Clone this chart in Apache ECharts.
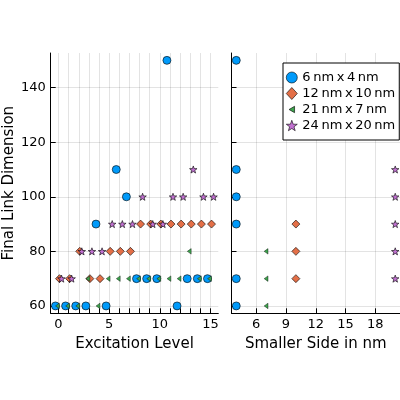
<!DOCTYPE html>
<html>
<head>
<meta charset="utf-8">
<script src="https://cdn.jsdelivr.net/npm/echarts@6/dist/echarts.min.js"></script>
<style>
html, body { margin: 0; padding: 0; background: #fff; }
#chart { width: 400px; height: 400px; }
</style>
</head>
<body>
<div id="chart"></div>
<script>
// data
var levels = [0, 1, 2, 3, 4, 5, 6, 7, 8, 9, 10, 11, 12, 13, 14, 15];
var names = ['6\u2009nm\u2009x\u20094\u2009nm', '12\u2009nm\u2009x\u200910\u2009nm', '21\u2009nm\u2009x\u20097\u2009nm', '24\u2009nm\u2009x\u200920\u2009nm'];
var smallerSide = [4, 10, 7, 20];
var dim6x4 = [60, 60, 60, 60, 90, 60, 110, 100, 70, 70, 70, 150, 60, 70, 70, 70];
var dim12x10 = [70, 70, 80, 70, 70, 80, 80, 80, 90, 90, 90, 90, 90, 90, 90, 90];
var dim21x7 = [60, 60, 60, 70, 60, 70, 70, 70, 70, 70, 70, 70, 70, 80, 70, 70];
var dim24x20 = [70, 70, 80, 80, 80, 90, 90, 90, 100, 90, 90, 100, 100, 110, 100, 100];
var yTicks = [60, 80, 100, 120, 140];
var levelLabels = [0, 5, 10, 15];
var sideTicks = [6, 9, 12, 15, 18];

/* styles */
var FONT = 'DejaVu Sans';
var colors = ['#009AFA', '#E36F47', '#3EA44E', '#C271D2'];
var dodge = [-0.3, 0.1, -0.1, 0.3];
var STAR = 'path://M0,-10 L2.35,-3.24 9.51,-3.09 3.8,1.24 5.88,8.09 0,4.2 -5.88,8.09 -3.8,1.24 -9.51,-3.09 -2.35,-3.24 Z';
var LTRI = 'path://M0,3.5 L6,0 L6,7 Z';
var LTRI_LEGEND = 'path://M-3,-2.5 M9,9.5 M0,3.5 L6,0 L6,7 Z';
var symbols = ['circle', 'diamond', LTRI, STAR];
var sizes = [8, 8, [4.5, 5.5], 7.5];
var dims = [dim6x4, dim12x10, dim21x7, dim24x20];

var chart = echarts.init(document.getElementById('chart'));

function axisCommon() {
	return {
		axisLine: { show: true, onZero: false, lineStyle: { color: '#000', width: 1 } },
		axisTick: { show: true, inside: true, length: 5, lineStyle: { color: '#000', width: 1 } },
		axisLabel: { color: '#000', fontFamily: FONT, fontSize: 13, margin: 5 },
		splitLine: { show: true, lineStyle: { color: 'rgba(0,0,0,0.11)', width: 1 } },
		nameTextStyle: { color: '#000', fontFamily: FONT, fontSize: 15 },
		nameLocation: 'middle'
	};
}

var xLeft = axisCommon();
xLeft.type = 'value'; xLeft.gridIndex = 0;
xLeft.min = -0.768; xLeft.max = 15.768;
xLeft.name = 'Excitation Level'; xLeft.nameGap = 22;
xLeft.axisTick.customValues = levels;
xLeft.axisLabel.customValues = levelLabels;

var xRight = axisCommon();
xRight.type = 'value'; xRight.gridIndex = 1;
xRight.min = 3.52; xRight.max = 20.48;
xRight.name = 'Smaller Side in nm'; xRight.nameGap = 22;
xRight.axisTick.customValues = sideTicks;
xRight.axisLabel.customValues = sideTicks;

var yLeft = axisCommon();
yLeft.type = 'value'; yLeft.gridIndex = 0;
yLeft.min = 57.3; yLeft.max = 152.7;
yLeft.name = 'Final Link Dimension'; yLeft.nameGap = 34;
yLeft.axisTick.customValues = yTicks;
yLeft.axisLabel.customValues = yTicks;

var yRight = axisCommon();
yRight.type = 'value'; yRight.gridIndex = 1;
yRight.min = 57.3; yRight.max = 152.7;
yRight.axisTick.customValues = yTicks;
yRight.axisLabel.customValues = yTicks;
yRight.axisLabel.show = false;

var series = [];
for (var s = 0; s < 4; s++) {
	var left = [], right = [], seen = {};
	for (var i = 0; i < levels.length; i++) {
		left.push([levels[i] + dodge[s], dims[s][i]]);
		// right panel: one mark per distinct dimension (same spot otherwise)
		if (!seen[dims[s][i]]) {
			seen[dims[s][i]] = true;
			right.push([smallerSide[s], dims[s][i]]);
		}
	}
	var base = {
		type: 'scatter',
		name: names[s],
		symbol: symbols[s],
		symbolSize: sizes[s],
		symbolKeepAspect: true,
		itemStyle: { color: colors[s], borderColor: '#000', borderWidth: s == 2 ? 0.4 : 0.6, opacity: 1 },
		emphasis: { disabled: true },
		z: 2 + s
	};
	series.push(Object.assign({}, base, { xAxisIndex: 0, yAxisIndex: 0, data: left }));
	series.push(Object.assign({}, base, { xAxisIndex: 1, yAxisIndex: 1, data: right }));
}

option = {
	animation: false,
	backgroundColor: '#fff',
	grid: [
		{ left: 50.7, top: 53, width: 167.6, height: 260.3 },
		{ left: 231.5, top: 53, width: 168.5, height: 260.3 }
	],
	legend: {
		orient: 'vertical',
		left: 283, top: 63,
		backgroundColor: '#fff',
		borderColor: '#000', borderWidth: 1, borderRadius: 0,
		padding: [8, 4, 8, 3],
		itemGap: 3, itemWidth: 11, itemHeight: 12,
		itemStyle: { borderColor: '#000', borderWidth: 0.6 },
		textStyle: { color: '#000', fontFamily: FONT, fontSize: 13 },
		data: [
			{ name: names[0] },
			{ name: names[1] },
			{ name: names[2], icon: LTRI_LEGEND },
			{ name: names[3] }
		]
	},
	xAxis: [xLeft, xRight],
	yAxis: [yLeft, yRight],
	series: series
};

chart.setOption(option);
</script>
</body>
</html>
